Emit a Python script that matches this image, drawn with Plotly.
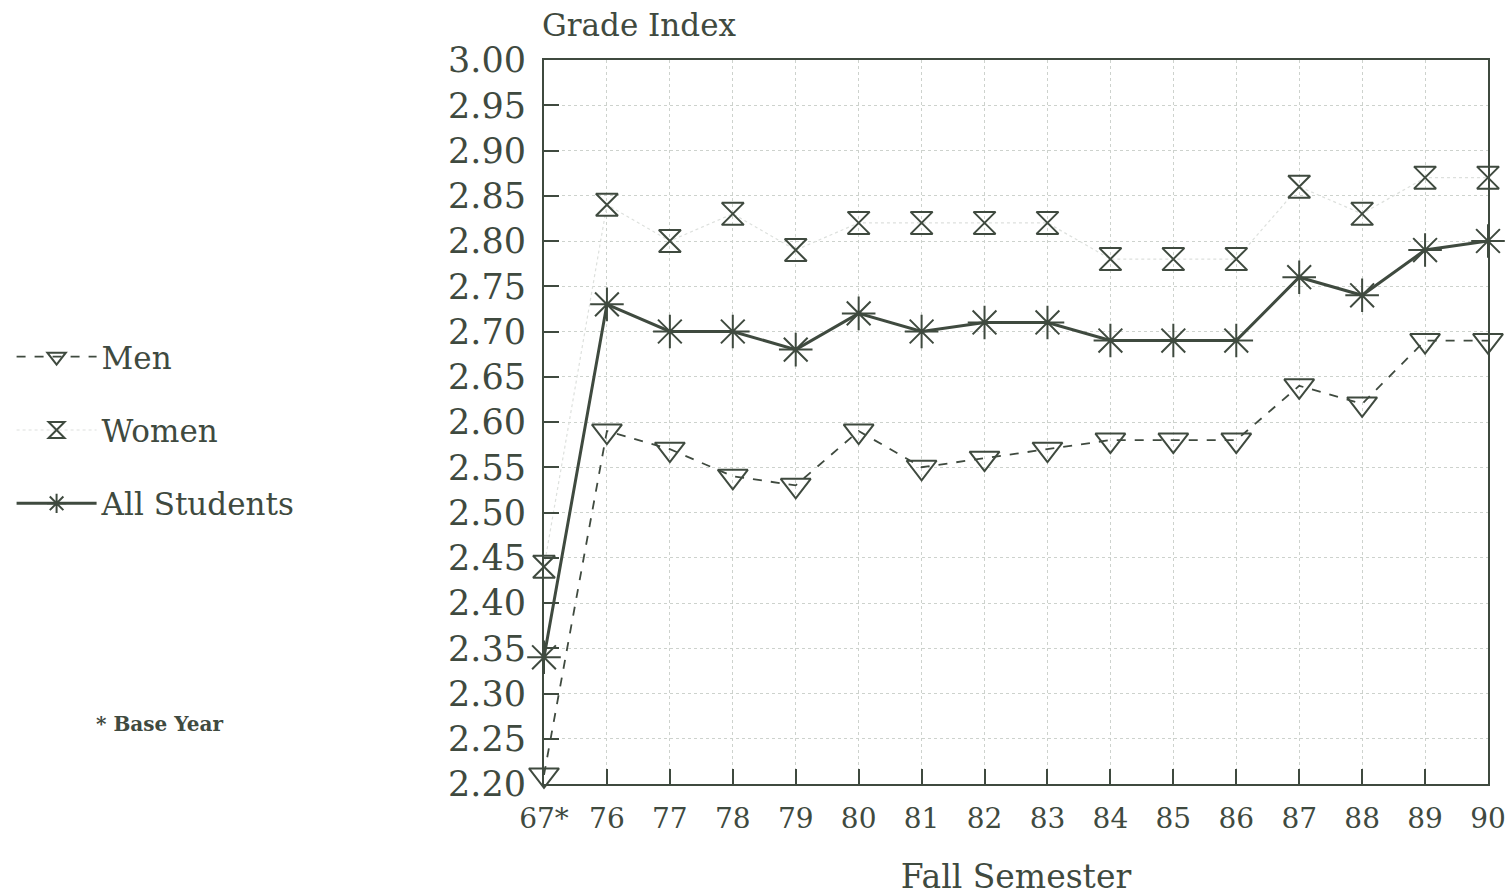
import plotly.graph_objects as go

INK = '#3f4a3f'
GRID = '#cdd2cd'
FONT = 'DejaVu Serif'

semesters = ['67*', '76', '77', '78', '79', '80', '81', '82', '83', '84', '85', '86', '87', '88', '89', '90']
men = [2.21, 2.59, 2.57, 2.54, 2.53, 2.59, 2.55, 2.56, 2.57, 2.58, 2.58, 2.58, 2.64, 2.62, 2.69, 2.69]
women = [2.44, 2.84, 2.80, 2.83, 2.79, 2.82, 2.82, 2.82, 2.82, 2.78, 2.78, 2.78, 2.86, 2.83, 2.87, 2.87]
all_students = [2.34, 2.73, 2.70, 2.70, 2.68, 2.72, 2.70, 2.71, 2.71, 2.69, 2.69, 2.69, 2.76, 2.74, 2.79, 2.80]

y_ticks = [round(2.20 + 0.05 * i, 2) for i in range(17)]

fig = go.Figure()

fig.add_trace(go.Scatter(
    x=semesters, y=men, name='Men', mode='lines+markers', cliponaxis=False,
    line=dict(color=INK, width=1.8, dash='dash'),
    marker=dict(symbol='triangle-down-open', size=26, color=INK, line=dict(width=2)),
    legendgroup='m'
))
fig.add_trace(go.Scatter(
    x=semesters, y=women, name='Women', mode='lines+markers', cliponaxis=False,
    line=dict(color='#dde0dd', width=1.2, dash='dot'),
    marker=dict(symbol='hourglass-open', size=22, color=INK, line=dict(width=2)),
    legendgroup='w'
))
fig.add_trace(go.Scatter(
    x=semesters, y=all_students, name='All Students', mode='lines+markers', cliponaxis=False,
    line=dict(color=INK, width=3),
    marker=dict(symbol='asterisk-open', size=28, color=INK, line=dict(width=2, color=INK)),
    legendgroup='a'
))

fig.add_annotation(text='Grade Index', x=-0.004, y=1.048, xref='paper', yref='paper',
                   xanchor='left', yanchor='middle', showarrow=False,
                   font=dict(family=FONT, size=31, color=INK))
fig.add_annotation(text='* Base Year', x=-0.477, y=0.083, xref='paper', yref='paper',
                   xanchor='left', yanchor='middle', showarrow=False,
                   font=dict(family=FONT, size=20, color=INK, weight='bold'))

fig.update_layout(
    width=1509, height=896,
    margin=dict(l=540, r=21, t=60, b=112),
    paper_bgcolor='white', plot_bgcolor='white',
    font=dict(family=FONT, color=INK),
    legend=dict(x=-0.564, y=0.627, xanchor='left', yanchor='top',
                font=dict(family=FONT, size=31, color=INK),
                itemwidth=80, tracegroupgap=30, traceorder='grouped',
                bgcolor='rgba(0,0,0,0)'),
    xaxis=dict(
        type='category', range=[0, 15], showline=True, linecolor=INK, linewidth=2, mirror=True,
        showgrid=True, gridcolor=GRID, griddash='dot', gridwidth=1, automargin=False,
        ticks='inside', ticklen=15, tickwidth=1.5, tickcolor=INK, ticklabelstandoff=8,
        tickfont=dict(family=FONT, size=28, color=INK),
        title=dict(text='Fall Semester', font=dict(family=FONT, size=33, color=INK), standoff=53)
    ),
    yaxis=dict(
        range=[2.20, 3.00], tickvals=y_ticks, tickformat='.2f', automargin=False,
        showline=True, linecolor=INK, linewidth=2, mirror=True,
        showgrid=True, gridcolor=GRID, griddash='dot', gridwidth=1,
        ticks='inside', ticklen=15, tickwidth=1.5, tickcolor=INK, ticklabelstandoff=9,
        tickfont=dict(family=FONT, size=35, color=INK), zeroline=False
    ),
)

# drop the page's default 8px body margin so the figure fills the window exactly
fig.write_html('out.html', config={'displayModeBar': False},
               post_script="document.body.style.margin = '0';")
